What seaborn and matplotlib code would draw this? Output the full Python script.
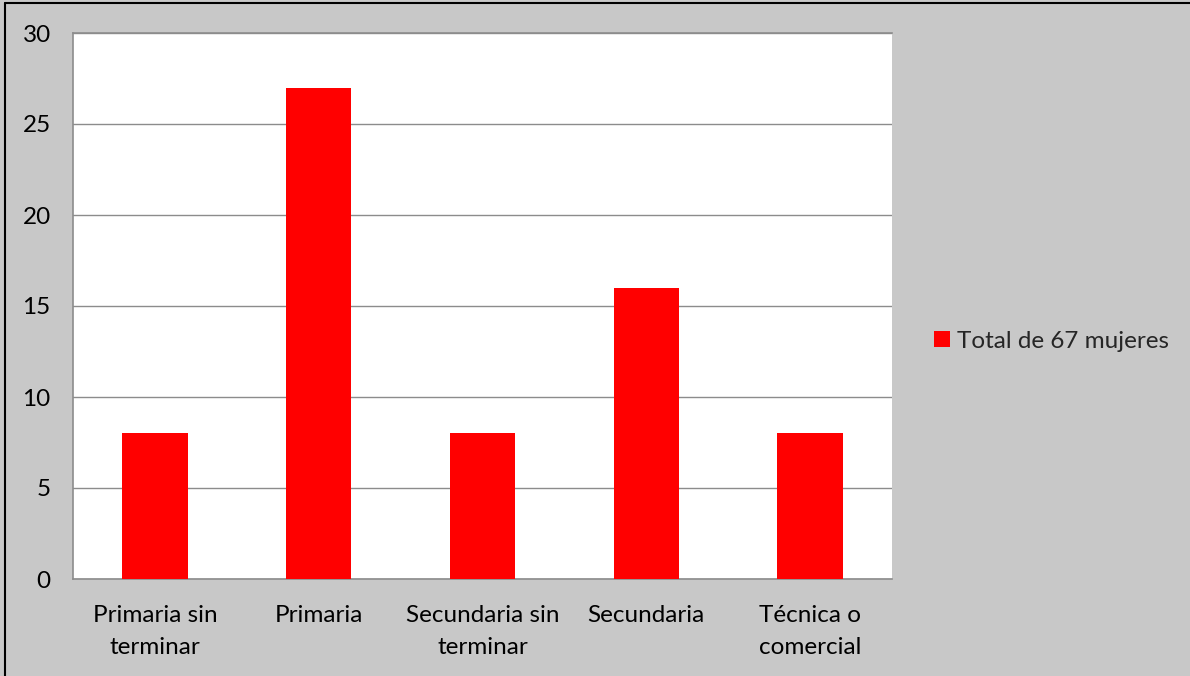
import matplotlib
matplotlib.use("Agg")
import matplotlib.pyplot as plt
import seaborn as sns
import pandas as pd
from matplotlib.lines import Line2D
from matplotlib.patches import Patch

# data
categories = ["Primaria sin\nterminar", "Primaria", "Secundaria sin\nterminar",
              "Secundaria", "Técnica o\ncomercial"]
counts = [8, 27, 8, 16, 8]
series_name = "Total de 67 mujeres"
y_ticks = [0, 5, 10, 15, 20, 25, 30]

sns.set_style("white")
plt.rcParams['font.family'] = ['Lato', 'DejaVu Sans']

bg = "#C8C8C8"
df = pd.DataFrame({"nivel": categories, "n": counts})

fig = plt.figure(figsize=(11.9, 6.76), dpi=100, facecolor=bg)
ax = fig.add_axes([73 / 1190, 1 - 579 / 676, 819 / 1190, 546 / 676])

sns.barplot(data=df, x="nivel", y="n", color="#FF0000", saturation=1,
            width=0.4, linewidth=0, ax=ax, zorder=3)

ax.set_ylim(0, 30)
ax.set_yticks(y_ticks)
ax.yaxis.grid(True, color="#8C8C8C", linewidth=1, zorder=0)
ax.set_axisbelow(True)
ax.set_xlabel("")
ax.set_ylabel("")
ax.tick_params(axis="both", length=0, labelsize=17.5, colors="black")
ax.tick_params(axis="y", pad=16)
ax.tick_params(axis="x", pad=19)
for lbl in ax.get_xticklabels():
    lbl.set_linespacing(1.6)
for side in ["top", "left", "bottom"]:
    ax.spines[side].set_color("#8C8C8C")
    ax.spines[side].set_linewidth(1.2)
ax.spines["right"].set_visible(False)

# legend to the right of the plot area
handle = Patch(facecolor="#FF0000", edgecolor="none")
fig.legend([handle], [series_name], loc="center left",
           bbox_to_anchor=(912 / 1190, 1 - 341 / 676), frameon=False,
           fontsize=17.5, handlelength=0.65, handleheight=0.65, handletextpad=0.3)

# outer frame of the chart area
fig.add_artist(Line2D([5 / 1190, 1], [1 - 3 / 676, 1 - 3 / 676],
                      color="black", linewidth=1.5, transform=fig.transFigure))
fig.add_artist(Line2D([5 / 1190, 5 / 1190], [0, 1 - 3 / 676],
                      color="black", linewidth=1.5, transform=fig.transFigure))

fig.savefig("out.png", dpi=100, facecolor=bg)
